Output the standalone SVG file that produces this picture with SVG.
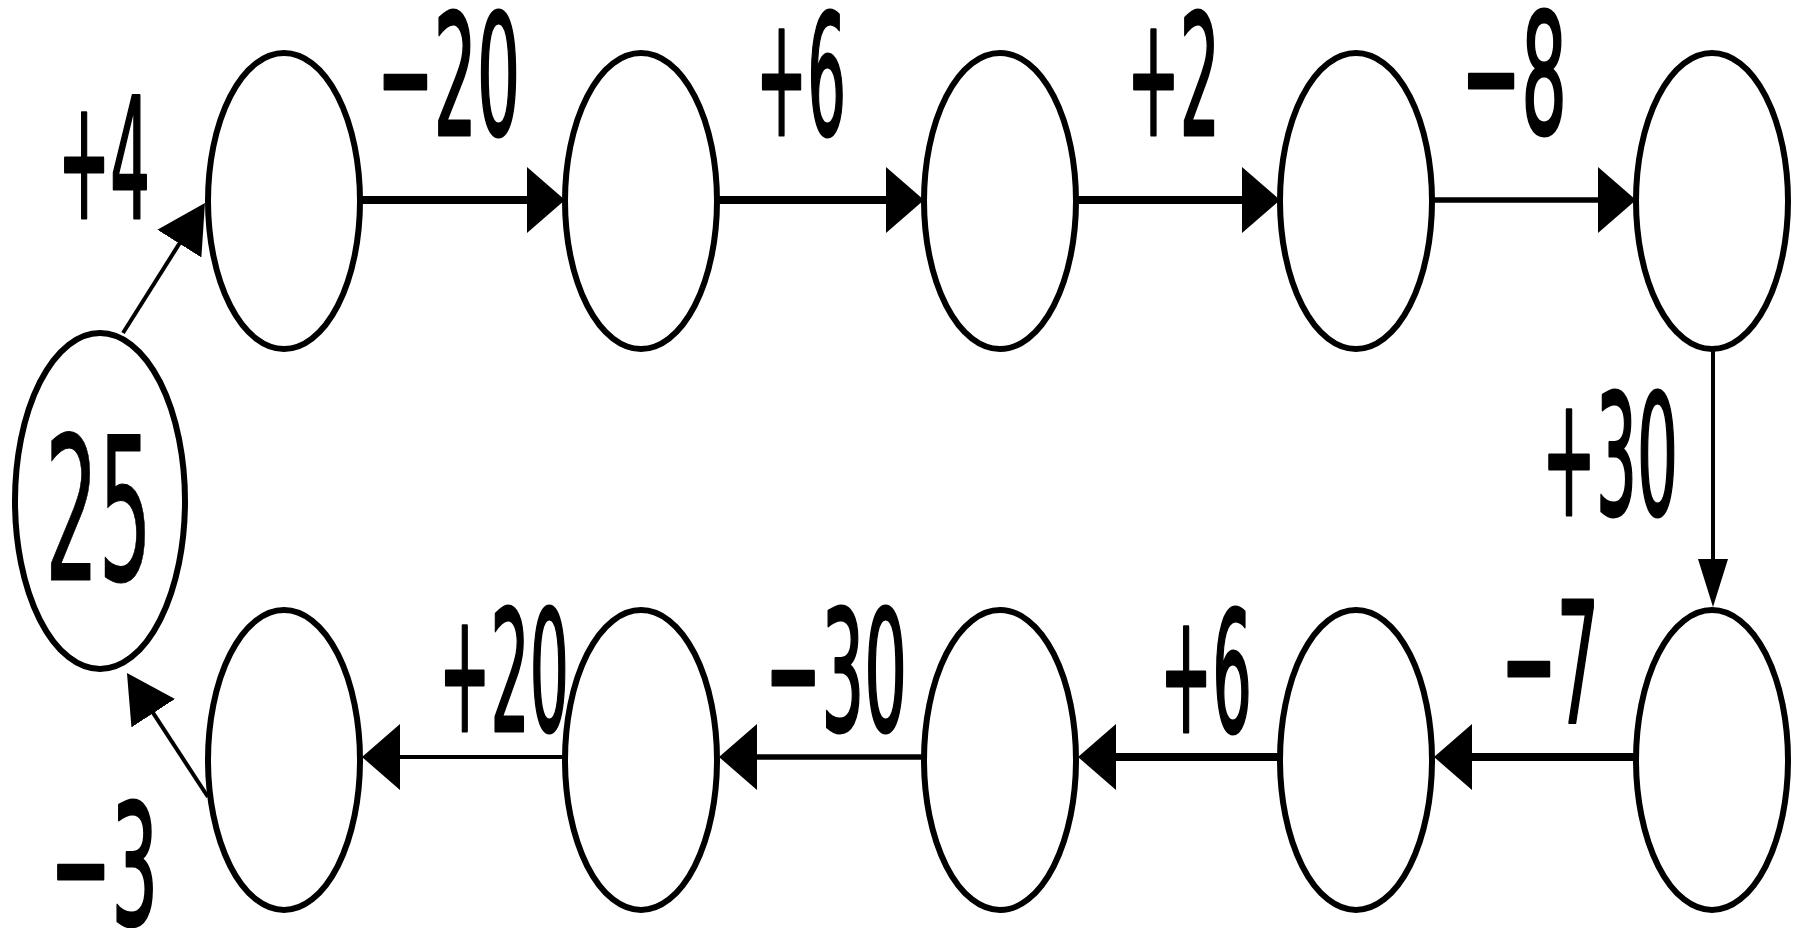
<svg xmlns="http://www.w3.org/2000/svg" width="1802" height="928" viewBox="0 0 1802 928">
<defs>
<style>
.node{fill:#fff;stroke:#000;stroke-width:6}
.lbl{font-family:"DejaVu Sans","Liberation Sans",sans-serif;font-size:168px;fill:#000;stroke:#000;stroke-width:3;stroke-linejoin:round}
.big{font-size:200px;stroke-width:1}
.e{stroke:#000;fill:none}
.thick{stroke-width:8}
.med{stroke-width:5.5}
.thin{stroke-width:4}
.h{marker-end:url(#arrH)}
.v{marker-end:url(#arrV)}
.d{marker-end:url(#arrD)}
</style>
<marker id="arrH" viewBox="0 -33 38 66" markerWidth="38" markerHeight="66" refX="18" refY="0" orient="auto" markerUnits="userSpaceOnUse"><path d="M0,-33 L38,0 L0,33 Z" fill="#000"/></marker>
<marker id="arrV" viewBox="0 -15 48 30" markerWidth="48" markerHeight="30" refX="28" refY="0" orient="auto" markerUnits="userSpaceOnUse"><path d="M0,-15 L48,0 L0,15 Z" fill="#000"/></marker>
<marker id="arrD" viewBox="0 -26 48 52" markerWidth="48" markerHeight="52" refX="28" refY="0" orient="auto" markerUnits="userSpaceOnUse"><path d="M0,-26 L48,0 L0,26 Z" fill="#000"/></marker>
</defs>
<rect width="1802" height="928" fill="#fff"/>
<g id="connectors">
<line class="e thin d" x1="123" y1="333" x2="194.3" y2="219.9"/>
<line class="e thick h" x1="360" y1="200" x2="545" y2="200"/>
<line class="e thick h" x1="717" y1="200" x2="904" y2="200"/>
<line class="e thick h" x1="1076" y1="200" x2="1260" y2="200"/>
<line class="e med h" x1="1432" y1="200" x2="1616" y2="200"/>
<line class="e thin v" x1="1713" y1="349" x2="1713" y2="587"/>
<line class="e thick h" x1="1636" y1="757" x2="1454" y2="757"/>
<line class="e thick h" x1="1280" y1="757" x2="1098" y2="757"/>
<line class="e med h" x1="924" y1="757" x2="739" y2="757"/>
<line class="e thin h" x1="565" y1="757" x2="382" y2="757"/>
<line class="e thin d" x1="208" y1="797" x2="137.9" y2="689.7"/>
</g>
<g id="n0"><ellipse class="node" cx="100" cy="501" rx="85" ry="168"/><text class="lbl big" x="45" y="580" textLength="107" lengthAdjust="spacingAndGlyphs">25</text></g>
<g id="n1"><ellipse class="node" cx="284" cy="201" rx="76" ry="148"/></g>
<g id="n2"><ellipse class="node" cx="641" cy="201" rx="76" ry="148"/></g>
<g id="n3"><ellipse class="node" cx="1000" cy="201" rx="76" ry="148"/></g>
<g id="n4"><ellipse class="node" cx="1356" cy="201" rx="76" ry="148"/></g>
<g id="n5"><ellipse class="node" cx="1712" cy="201" rx="76" ry="148"/></g>
<g id="n6"><ellipse class="node" cx="1712" cy="760" rx="76" ry="150"/></g>
<g id="n7"><ellipse class="node" cx="1356" cy="760" rx="76" ry="150"/></g>
<g id="n8"><ellipse class="node" cx="1000" cy="760" rx="76" ry="150"/></g>
<g id="n9"><ellipse class="node" cx="641" cy="760" rx="76" ry="150"/></g>
<g id="n10"><ellipse class="node" cx="284" cy="760" rx="76" ry="150"/></g>
<g id="labels">
<text class="lbl" x="58" y="218" textLength="92" lengthAdjust="spacingAndGlyphs">+4</text>
<text class="lbl" x="377" y="135" textLength="143" lengthAdjust="spacingAndGlyphs">−20</text>
<text class="lbl" x="756" y="135" textLength="90" lengthAdjust="spacingAndGlyphs">+6</text>
<text class="lbl" x="1127" y="135" textLength="93" lengthAdjust="spacingAndGlyphs">+2</text>
<text class="lbl" x="1461" y="134" textLength="106" lengthAdjust="spacingAndGlyphs">−8</text>
<text class="lbl" x="1542" y="515" textLength="136" lengthAdjust="spacingAndGlyphs">+30</text>
<text class="lbl" x="1501" y="722" textLength="98" lengthAdjust="spacingAndGlyphs">−7</text>
<text class="lbl" x="1160" y="732" textLength="92" lengthAdjust="spacingAndGlyphs">+6</text>
<text class="lbl" x="765" y="731" textLength="142" lengthAdjust="spacingAndGlyphs">−30</text>
<text class="lbl" x="439" y="731" textLength="130" lengthAdjust="spacingAndGlyphs">+20</text>
<text class="lbl" x="50" y="925" textLength="108" lengthAdjust="spacingAndGlyphs">−3</text>
</g>
</svg>
